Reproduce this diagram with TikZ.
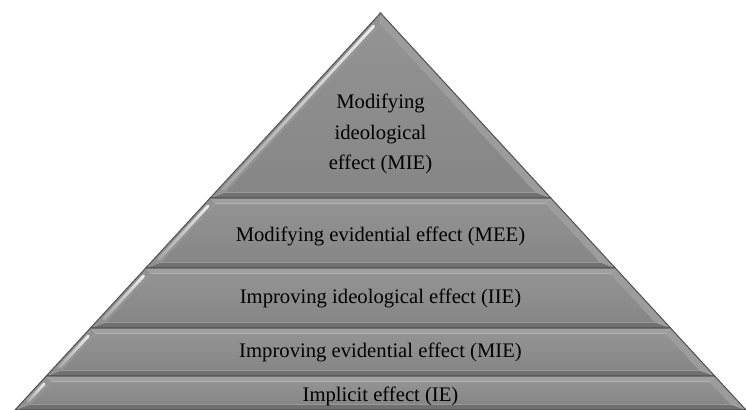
\documentclass[tikz,border=0pt]{standalone}
\usepackage{fontspec}
\setmainfont{Liberation Serif}
\usetikzlibrary{fadings}

\definecolor{layerface}{RGB}{140,140,140}
\definecolor{layerfacetop}{RGB}{147,147,147}
\definecolor{layerfacebot}{RGB}{134,134,134}
\definecolor{bevellight}{RGB}{160,160,160}
\definecolor{bevelside}{RGB}{156,156,156}
\definecolor{bevelleft}{RGB}{146,146,146}
\definecolor{beveldark}{RGB}{112,112,112}
\definecolor{layerrim}{RGB}{80,80,80}
\definecolor{glintwhite}{RGB}{236,236,236}

\tikzfading[name=glintfade, top color=transparent!0, bottom color=transparent!80]

\tikzset{
    layerbody/.style={top color=layerfacetop, bottom color=layerfacebot},
    layerrimline/.style={draw=layerrim, line width=0.025cm, line join=miter},
    glint/.style={draw=glintwhite, line width=0.075cm, line cap=round, path fading=glintfade},
    layertext/.style={font=\fontsize{14.7}{21.5}\selectfont, align=center, text=black}
}

\begin{document}
\begin{tikzpicture}
    \def\cx{9.5125}
    % #1 bottom height, #2 top height, #3 top height of the inner face
    \def\layer#1#2#3{
        \pgfmathsetmacro\lb{0.375+0.9207*#1}
        \pgfmathsetmacro\lt{0.375+0.9207*#2}
        \pgfmathsetmacro\rb{18.65-0.9207*#1}
        \pgfmathsetmacro\rt{18.65-0.9207*#2}
        \pgfmathsetmacro\ib{#1+0.14}
        \pgfmathsetmacro\ilb{0.625+0.9207*\ib}
        \pgfmathsetmacro\irb{18.4-0.9207*\ib}
        \pgfmathsetmacro\ilt{0.625+0.9207*#3}
        \pgfmathsetmacro\irt{18.4-0.9207*#3}
        \pgfmathsetmacro\gb{#1+0.22}
        \pgfmathsetmacro\gt{#3-0.06}
        \pgfmathsetmacro\gxb{0.505+0.9207*\gb}
        \pgfmathsetmacro\gxt{0.505+0.9207*\gt}
        \fill[bevellight] (\lt,#2) -- (\rt,#2) -- (\irt,#3) -- (\ilt,#3) -- cycle;
        \fill[beveldark] (\lb,#1) -- (\rb,#1) -- (\irb,\ib) -- (\ilb,\ib) -- cycle;
        \fill[bevelside] (\rb,#1) -- (\rt,#2) -- (\irt,#3) -- (\irb,\ib) -- cycle;
        \fill[bevelleft] (\lb,#1) -- (\lt,#2) -- (\ilt,#3) -- (\ilb,\ib) -- cycle;
        \shade[layerbody] (\ilb,\ib) -- (\ilt,#3) -- (\irt,#3) -- (\irb,\ib) -- cycle;
        \draw[glint] (\gxb,\gb) -- (\gxt,\gt);
        \draw[layerrimline] (\lb,#1) -- (\lt,#2) -- (\rt,#2) -- (\rb,#1) -- cycle;
    }

    \useasboundingbox (0,0) rectangle (18.65,10.25);

    \layer{0}{0.85}{0.71}
    \layer{0.85}{2.05}{1.91}
    \layer{2.05}{3.55}{3.41}
    \layer{3.55}{5.3}{5.16}
    \layer{5.3}{9.925}{9.653}

    \node[layertext] (mie) at (\cx, 6.9) {Modifying\\ideological\\effect (MIE)};
    \node[layertext] (mee) at (\cx, 4.35) {Modifying evidential effect (MEE)};
    \node[layertext] (iie) at (\cx, 2.8) {Improving ideological effect (IIE)};
    \node[layertext] (iev) at (\cx, 1.45) {Improving evidential effect (MIE)};
    \node[layertext] (ie) at (\cx, 0.35) {Implicit effect (IE)};
\end{tikzpicture}
\end{document}
